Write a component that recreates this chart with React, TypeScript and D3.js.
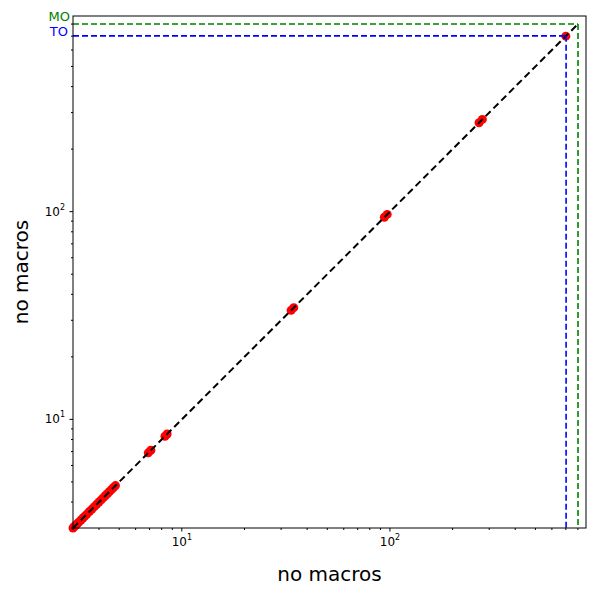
import React from 'react';
import * as d3 from 'd3';

// timings, both runs (no macros vs no macros)
const xs = [3.0, 3.05, 3.1, 3.15, 3.2, 3.28, 3.35, 3.42, 3.5, 3.6, 3.7, 3.8, 3.9, 4.0, 4.1, 4.2, 4.3, 4.4, 4.5, 4.6, 4.7, 4.8, 6.9, 7.1, 8.3, 8.5, 33.5, 34.5, 94, 97, 268, 278, 700];
const ys = [3.0, 3.05, 3.1, 3.15, 3.2, 3.28, 3.35, 3.42, 3.5, 3.6, 3.7, 3.8, 3.9, 4.0, 4.1, 4.2, 4.3, 4.4, 4.5, 4.6, 4.7, 4.8, 6.9, 7.1, 8.3, 8.5, 33.5, 34.5, 94, 97, 268, 278, 700];
const DOMAIN: [number, number] = [3.0, 875];
const MO = 801;
const TO = 702;

const W = 596, H = 595;
const m = { left: 73, right: 10, top: 16, bottom: 67 };

export default function App() {
  const x = d3.scaleLog().domain(DOMAIN).range([m.left, W - m.right]);
  const y = d3.scaleLog().domain(DOMAIN).range([H - m.bottom, m.top]);
  const minor = (s: d3.ScaleLogarithmic<number, number>) =>
    s.ticks().filter(t => t >= DOMAIN[0] && t <= DOMAIN[1]);
  const major = [10, 100];
  const y0 = H - m.bottom, x0 = m.left;
  return (
    <svg width={W} height={H} style={{ position: 'absolute', left: 0, top: 0, fontFamily: 'DejaVu Sans' }}>
      <rect width={W} height={H} fill="#fff" />
      {xs.map((v, i) => (
        <ellipse key={i} cx={x(v)} cy={y(ys[i])} rx={4.5} ry={4.5} fill="red" />
      ))}
      <line x1={x(DOMAIN[0])} y1={y(DOMAIN[0])} x2={x(MO)} y2={y(MO)} stroke="#000" strokeWidth={2} strokeDasharray="7,4" />
      <line x1={x0} x2={x(MO)} y1={y(MO)} y2={y(MO)} stroke="green" strokeWidth={1.6} strokeDasharray="6,3" />
      <line x1={x(MO)} x2={x(MO)} y1={y(MO)} y2={y0} stroke="green" strokeWidth={1.6} strokeDasharray="6,3" />
      <line x1={x0} x2={x(TO)} y1={y(TO)} y2={y(TO)} stroke="blue" strokeWidth={1.6} strokeDasharray="6,3" />
      <line x1={x(TO)} x2={x(TO)} y1={y(TO)} y2={y0} stroke="blue" strokeWidth={1.6} strokeDasharray="6,3" />
      <rect x={m.left} y={m.top} width={W - m.left - m.right} height={H - m.top - m.bottom} fill="none" stroke="#000" />
      {minor(x).map(t => (
        <line key={'x' + t} x1={x(t)} x2={x(t)} y1={y0} y2={y0 + (major.includes(t) ? 3.5 : 2)} stroke="#000" />
      ))}
      {minor(y).map(t => (
        <line key={'y' + t} y1={y(t)} y2={y(t)} x1={x0} x2={x0 - (major.includes(t) ? 3.5 : 2)} stroke="#000" />
      ))}
      {major.map(t => (
        <g key={t}>
          <text x={x(t)} y={y0 + 18} textAnchor="middle" fontSize={12}>10<tspan dy={-6} fontSize={8}>{Math.log10(t)}</tspan></text>
          <text x={x0 - 8} y={y(t) + 4} textAnchor="end" fontSize={12}>10<tspan dy={-6} fontSize={8}>{Math.log10(t)}</tspan></text>
        </g>
      ))}
      <text x={x0 - 3} y={y(MO) - 3} textAnchor="end" fontSize={13} fill="green">MO</text>
      <text x={x0 - 5} y={y(TO) + 0} textAnchor="end" fontSize={13} fill="blue">TO</text>
      <text x={(m.left + W - m.right) / 2} y={581} textAnchor="middle" fontSize={20}>no macros</text>
      <text transform={`translate(28,${(m.top + y0) / 2}) rotate(-90)`} textAnchor="middle" fontSize={20}>no macros</text>
    </svg>
  );
}
